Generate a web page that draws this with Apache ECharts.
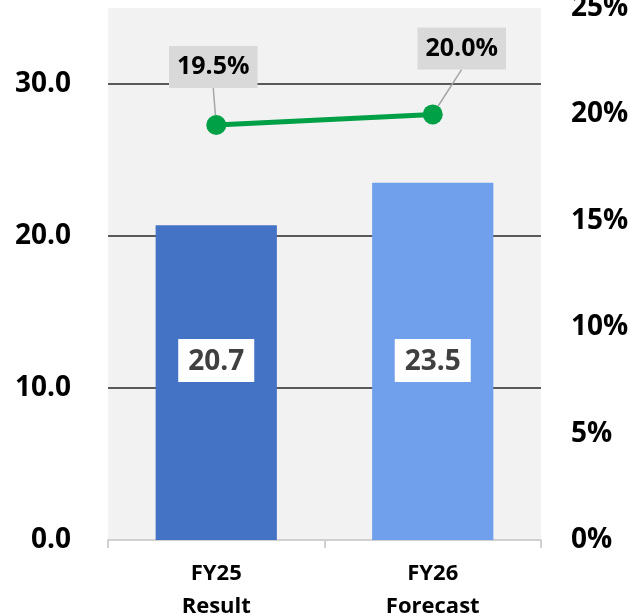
<!DOCTYPE html>
<html lang="en">
<head>
    <meta charset="UTF-8" />
    <title>FY25 / FY26</title>
    <script src="https://cdn.jsdelivr.net/npm/echarts@6/dist/echarts.min.js"></script>
    <style>
        html, body { margin: 0; padding: 0; background: #fff; }
        #main { width: 629px; height: 614px; }
    </style>
</head>
<body>
    <div id="main"></div>
    <script>
        var categories = ["FY25\nResult", "FY26\nForecast"];
        var barValues = [20.7, 23.5];
        var barColors = ["#4472c4", "#70a0eb"];
        var rateValues = [19.5, 20.0];
        // label offsets for the percentage boxes (leader lines go back to the point)
        var rateLabelShift = [[-3, -58], [29, -66]];

        var font = "'Open Sans', 'Noto Sans', sans-serif";
        var mCharts = echarts.init(document.getElementById("main"));

        var option = {
            animation: false,
            grid: {
                left: 108, right: 88, top: 8, bottom: 74,
                outerBoundsMode: "none",
                show: true, backgroundColor: "#f2f2f2", borderWidth: 0
            },
            xAxis: {
                type: "category",
                data: categories,
                axisLine: { lineStyle: { color: "#d0d0d0", width: 2 } },
                axisTick: { show: true, length: 8, lineStyle: { color: "#d0d0d0", width: 2 } },
                axisLabel: {
                    color: "#000", fontSize: 22, fontWeight: "bold", fontFamily: font,
                    lineHeight: 33, margin: 17
                }
            },
            yAxis: [
                {
                    type: "value", min: 0, max: 35, interval: 10,
                    axisLine: { show: false }, axisTick: { show: false },
                    axisLabel: {
                        color: "#000", fontSize: 28, fontWeight: "bold", fontFamily: font,
                        margin: 37, showMaxLabel: false,
                        formatter: function (v) { return v.toFixed(1); }
                    },
                    splitLine: { showMaxLine: false, lineStyle: { color: "#595959", width: 2 } }
                },
                {
                    type: "value", min: 0, max: 25, interval: 5,
                    axisLine: { show: false }, axisTick: { show: false },
                    splitLine: { show: false },
                    axisLabel: {
                        color: "#000", fontSize: 28, fontWeight: "bold", fontFamily: font,
                        margin: 30, formatter: "{value}%"
                    }
                }
            ],
            series: [
                {
                    type: "bar",
                    barWidth: "56%",
                    data: barValues.map(function (v, i) {
                        return { value: v, itemStyle: { color: barColors[i] } };
                    }),
                    label: {
                        show: true,
                        position: "insideBottom",
                        distance: 158,
                        color: "#404040", fontSize: 28, fontWeight: "bold", fontFamily: font,
                        backgroundColor: "#fff",
                        padding: [9, 10, 6, 10],
                        formatter: function (p) { return p.value.toFixed(1); }
                    }
                },
                {
                    type: "line",
                    yAxisIndex: 1,
                    data: rateValues,
                    symbol: "circle",
                    symbolSize: 20,
                    lineStyle: { color: "#00a046", width: 5 },
                    itemStyle: { color: "#00a046" },
                    z: 5,
                    label: {
                        show: true,
                        position: "inside",
                        color: "#000", fontSize: 25, fontWeight: "bold", fontFamily: font,
                        backgroundColor: "#d9d9d9",
                        padding: [10, 8, 7, 8],
                        formatter: function (p) { return p.value.toFixed(1) + "%"; }
                    },
                    labelLine: { show: true, lineStyle: { color: "#a6a6a6", width: 1.5 } },
                    labelLayout: function (p) {
                        var s = rateLabelShift[p.dataIndex];
                        return { dx: s[0], dy: s[1] };
                    }
                }
            ]
        };
        mCharts.setOption(option);
    </script>
</body>
</html>
